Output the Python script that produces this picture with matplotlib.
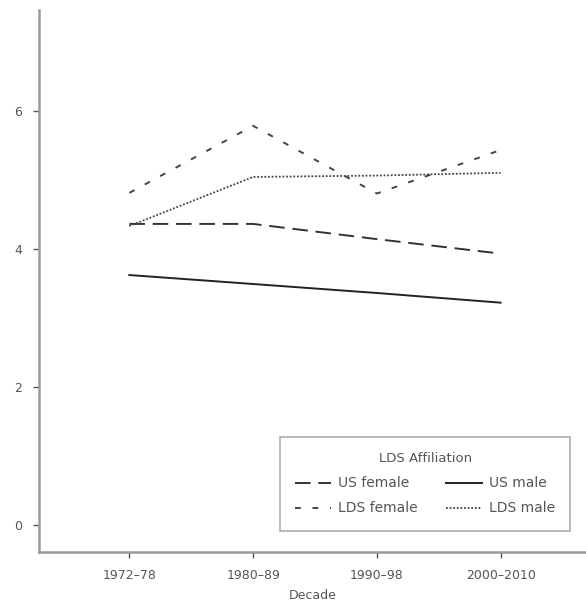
import numpy as np
import matplotlib
matplotlib.use("Agg")
from matplotlib import pyplot as plt

decades = ['1972–78', '1980–89', '1990–98', '2000–2010']
us_female = [4.36, 4.36, 4.14, 3.93]
us_male = [3.62, 3.49, 3.36, 3.22]
lds_female = [4.81, 5.78, 4.80, 5.43]
lds_male = [4.33, 5.04, 5.06, 5.10]

plt.rcParams['font.family'] = ['DejaVu Sans']
grey = '#555555'
spine_grey = '#999999'

fig = plt.figure(figsize=(5.86, 6.12), dpi=100)
ax = fig.add_axes([0.0666, 0.098, 0.9334, 0.886])

x = np.arange(len(decades))
ax.plot(x, us_female, color='#333333', lw=1.4, dashes=(8, 4), label='US female')
ax.plot(x, lds_female, color='#444444', lw=1.4, dashes=(3, 6), label='LDS female')
ax.plot(x, us_male, color='#222222', lw=1.4, label='US male')
ax.plot(x, lds_male, color='#444444', lw=1.3, dashes=(1, 1), label='LDS male')

ax.set_xlim(-0.73, 3.69)
ax.set_ylim(-0.39, 7.46)
ax.set_xticks(x)
ax.set_xticklabels(decades)
ax.set_yticks([0, 2, 4, 6])
ax.set_xlabel('Decade', color=grey, fontsize=9, labelpad=5)

for s in ['top', 'right']:
    ax.spines[s].set_visible(False)
for s in ['left', 'bottom']:
    ax.spines[s].set_color(spine_grey)
    ax.spines[s].set_linewidth(1.8)
ax.tick_params(colors=grey, labelcolor=grey, labelsize=9, length=4, width=1)
ax.tick_params(axis='y', pad=8)
ax.tick_params(axis='x', pad=8)

leg = ax.legend(ncol=2, title='LDS Affiliation', loc='upper left',
                bbox_to_anchor=(280 / 586, 1 - 437 / 612), bbox_transform=fig.transFigure,
                fontsize=10, title_fontsize=9.5, frameon=True, fancybox=False,
                handlelength=2.6, columnspacing=2.0, handletextpad=0.5,
                borderpad=1.1, labelspacing=0.8, borderaxespad=0)
leg.get_frame().set_edgecolor(spine_grey)
leg.get_frame().set_linewidth(1.2)
leg.get_title().set_color(grey)
for t in leg.get_texts():
    t.set_color(grey)

fig.savefig('out.png', dpi=100)
